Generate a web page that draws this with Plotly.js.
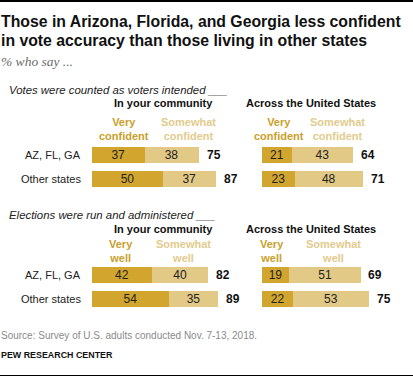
<!DOCTYPE html>
<html>
<head>
<meta charset="utf-8">
<script src="https://cdn.plot.ly/plotly-3.0.1.min.js"></script>
<style>html,body{margin:0;padding:0;background:#fff}#chart{width:413px;height:377px}</style>
</head>
<body>
<div id="chart"></div>
<script>
// ---- data ----
const groups = ['AZ, FL, GA', 'Other states'];
const countedCommunityVery = [37, 50];
const countedCommunitySomewhat = [38, 37];
const countedCommunityTotal = [75, 87];
const countedUSVery = [21, 23];
const countedUSSomewhat = [43, 48];
const countedUSTotal = [64, 71];
const runCommunityVery = [42, 54];
const runCommunitySomewhat = [40, 35];
const runCommunityTotal = [82, 89];
const runUSVery = [19, 22];
const runUSSomewhat = [51, 53];
const runUSTotal = [69, 75];

const W = 413, H = 377;
const px = x => x / W;
const py = y => 1 - y / H;

const DARK = '#D2A62E', LIGHT = '#E3C986';
const HDR_DARK = '#C9A02B', HDR_LIGHT = '#E2CB8E';
const BASE = 'Liberation Sans, Arial, sans-serif';

function barTrace(vals, color, xa, ya) {
  return {
    type: 'bar', orientation: 'h', y: groups, x: vals,
    xaxis: xa, yaxis: ya,
    marker: {color: color, line: {width: 0}},
    text: vals.map(String), textposition: 'inside', insidetextanchor: 'middle',
    textangle: 0, constraintext: 'none',
    textfont: {family: BASE, size: 12, color: '#222'},
    hoverinfo: 'skip', showlegend: false, cliponaxis: false
  };
}

const traces = [
  barTrace(countedCommunityVery, DARK, 'x', 'y'),
  barTrace(countedCommunitySomewhat, LIGHT, 'x', 'y'),
  barTrace(countedUSVery, DARK, 'x2', 'y2'),
  barTrace(countedUSSomewhat, LIGHT, 'x2', 'y2'),
  barTrace(runCommunityVery, DARK, 'x3', 'y3'),
  barTrace(runCommunitySomewhat, LIGHT, 'x3', 'y3'),
  barTrace(runUSVery, DARK, 'x4', 'y4'),
  barTrace(runUSSomewhat, LIGHT, 'x4', 'y4'),
];

const scale = 142; // px per 100 units
const comDom = [px(92), px(92 + scale)];
const usDom = [px(262), px(262 + scale)];
const sec1Dom = [py(191), py(143)];
const sec2Dom = [py(310.5), py(263.5)];

function xax(dom, anchor) {
  return {domain: dom, range: [0, 100], anchor: anchor, visible: false, fixedrange: true};
}
function yax(dom, anchor) {
  return {domain: dom, anchor: anchor, type: 'category', autorange: 'reversed',
          showticklabels: false, showgrid: false, zeroline: false, showline: false, ticks: '', fixedrange: true};
}

const ann = [];
function txt(text, x, y, opts) {
  ann.push(Object.assign({
    text: text, x: px(x), y: py(y), xref: 'paper', yref: 'paper',
    showarrow: false, xanchor: 'left', yanchor: 'middle',
    font: {family: BASE, size: 11, color: '#222'}
  }, opts || {}));
}

// title & subtitle
const TITLE = {family: BASE, size: 15.8, color: '#111'};
txt('<b>Those in Arizona, Florida, and Georgia less confident</b>', -1, 21, {font: TITLE});
txt('<b>in vote accuracy than those living in other states</b>', -1, 41, {font: TITLE});
txt('<i>% who say ...</i>', -1, 62, {font: {family: 'Liberation Serif, Georgia, serif', size: 13.5, color: '#6b6b6b'}});

// section labels
txt('<i>Votes were counted as voters intended ___</i>', 7, 90, {font: {family: BASE, size: 11.4, color: '#222'}});
txt('<i>Elections were run and administered ___</i>', 7, 215, {font: {family: BASE, size: 11.4, color: '#222'}});

const HDR = {family: BASE, size: 11, color: '#111'};
const LEG = s => ({family: BASE, size: 11, color: s});
[103, 229].forEach(y => {
  txt('<b>In your community</b>', 163, y, {xanchor: 'center', font: HDR});
  txt('<b>Across the United States</b>', 311, y, {xanchor: 'center', font: HDR});
});
txt('<b>Very<br>confident</b>', 124, 128.5, {xanchor: 'center', font: LEG(HDR_DARK)});
txt('<b>Somewhat<br>confident</b>', 188, 128.5, {xanchor: 'center', font: LEG(HDR_LIGHT)});
txt('<b>Very<br>confident</b>', 279, 128.5, {xanchor: 'center', font: LEG(HDR_DARK)});
txt('<b>Somewhat<br>confident</b>', 337, 128.5, {xanchor: 'center', font: LEG(HDR_LIGHT)});
txt('<b>Very<br>well</b>', 121, 250.5, {xanchor: 'center', font: LEG(HDR_DARK)});
txt('<b>Somewhat<br>well</b>', 183, 250.5, {xanchor: 'center', font: LEG(HDR_LIGHT)});
txt('<b>Very<br>well</b>', 272, 250.5, {xanchor: 'center', font: LEG(HDR_DARK)});
txt('<b>Somewhat<br>well</b>', 333, 250.5, {xanchor: 'center', font: LEG(HDR_LIGHT)});

// row labels (attached to y axes categories)
['y', 'y3'].forEach(ya => {
  groups.forEach(g => {
    ann.push({text: g, x: px(83), xref: 'paper', y: g, yref: ya, xanchor: 'right', yanchor: 'middle',
              showarrow: false, font: {family: BASE, size: 11, color: '#222'}});
  });
});

// totals
function totals(vals, xa, ya) {
  vals.forEach((v, i) => {
    ann.push({text: '<b>' + v + '</b>', x: v, y: groups[i], xref: xa, yref: ya,
              xanchor: 'left', yanchor: 'middle', xshift: 6, showarrow: false,
              font: {family: BASE, size: 12, color: '#111'}});
  });
}
totals(countedCommunityTotal, 'x', 'y');
totals(countedUSTotal, 'x2', 'y2');
totals(runCommunityTotal, 'x3', 'y3');
totals(runUSTotal, 'x4', 'y4');

// footer
txt('Source: Survey of U.S. adults conducted Nov. 7-13, 2018.', -1, 335, {font: {family: BASE, size: 10, color: '#8a8a8a'}});
txt('<b>PEW RESEARCH CENTER</b>', -1, 355, {font: {family: BASE, size: 8.9, color: '#111'}});

const layout = {
  width: W, height: H, margin: {l: 0, r: 0, t: 0, b: 0},
  paper_bgcolor: '#fff', plot_bgcolor: 'rgba(0,0,0,0)',
  barmode: 'stack', bargap: 0.32,
  showlegend: false,
  xaxis: xax(comDom, 'y'), yaxis: yax(sec1Dom, 'x'),
  xaxis2: xax(usDom, 'y2'), yaxis2: yax(sec1Dom, 'x2'),
  xaxis3: xax(comDom, 'y3'), yaxis3: yax(sec2Dom, 'x3'),
  xaxis4: xax(usDom, 'y4'), yaxis4: yax(sec2Dom, 'x4'),
  annotations: ann,
  shapes: [
    {type: 'line', xref: 'paper', yref: 'paper', x0: 0, x1: 1, y0: py(1), y1: py(1), line: {color: '#000', width: 2}},
    {type: 'line', xref: 'paper', yref: 'paper', x0: 0, x1: 1, y0: py(375.5), y1: py(375.5), line: {color: '#000', width: 1}}
  ]
};

Plotly.newPlot('chart', traces, layout, {staticPlot: true, displayModeBar: false});
</script>
</body>
</html>
